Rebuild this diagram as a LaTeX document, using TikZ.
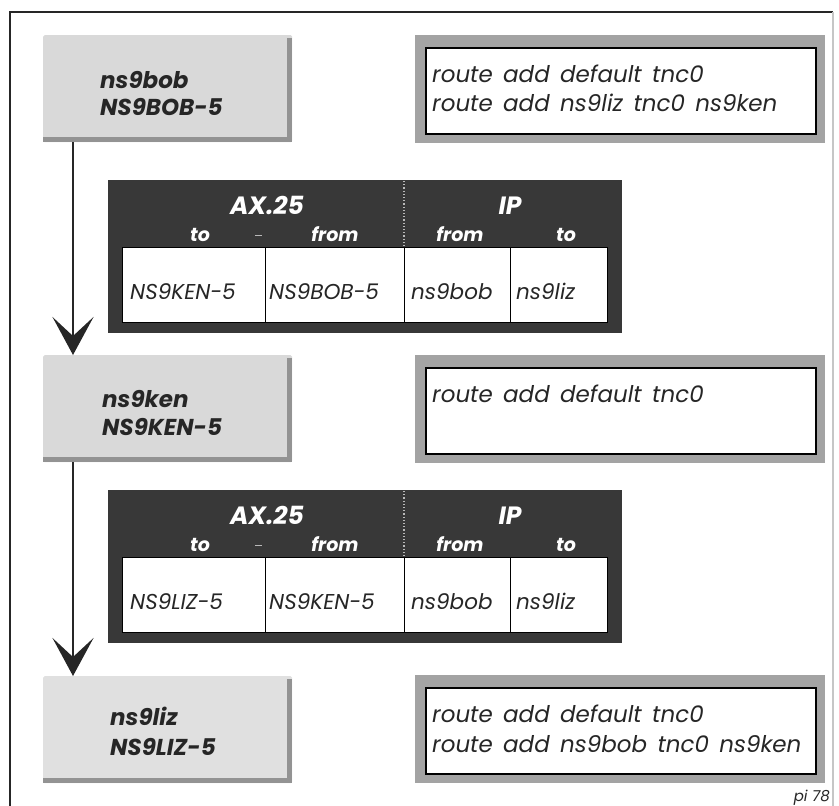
\documentclass[tikz,border=0pt]{standalone}
\usepackage{fontspec}
\setmainfont{Poppins}
\usetikzlibrary{arrows.meta,calc}
\newcommand\widewordsp{\spaceskip=0.45em\relax}
\begin{document}
\begin{tikzpicture}[x=1pt,y=-1pt,
  hostbox/.style={fill=gray!30,draw=none,inner sep=0pt,minimum width=249pt,minimum height=107pt,anchor=north west,rounded corners=1.5pt},
  hosttext/.style={anchor=base west,inner sep=0pt,font=\fontsize{23}{23}\selectfont\bfseries\itshape,text=black!85},
  routeband/.style={fill=gray!72,draw=none,inner sep=0pt,minimum width=410pt,minimum height=108pt,anchor=north west},
  routeinner/.style={fill=white,draw=black,line width=1.8pt,inner sep=0pt,minimum width=390pt,minimum height=86pt,anchor=north west},
  routetext/.style={anchor=base west,inner sep=0pt,font=\fontsize{23}{23}\selectfont\itshape\widewordsp,text=black!85},
  tabdark/.style={fill=black!78,draw=none,inner sep=0pt,minimum width=514pt,minimum height=153pt,anchor=north west},
  tabcell/.style={fill=white,draw=black,line width=0.8pt,inner sep=0pt,minimum height=75pt,anchor=north west},
  celltext/.style={anchor=base west,inner sep=0pt,font=\fontsize{21.5}{21.5}\selectfont\itshape,text=black!85},
  headbig/.style={anchor=base,inner sep=0pt,font=\fontsize{25}{25}\selectfont\bfseries\itshape,text=white},
  headsmall/.style={anchor=base,inner sep=0pt,font=\fontsize{19}{19}\selectfont\bfseries\itshape,text=white},
  conn/.style={line width=2.6pt,draw=black!85,-{Stealth[length=38pt,width=41pt,inset=19pt]}},
  shadowstrip/.style={fill=gray!85}
]
\useasboundingbox (0,0) rectangle (839,806);
% frame
\draw[line width=1.8pt,black!85] (10,812) -- (10,12) -- (833,12);
\draw[line width=1.2pt,gray!45] (833,12) -- (833,812);

% ---------- hosts ----------
\node[hostbox] (h1) at (43,35) {};
\node[hostbox] (h2) at (43,355) {};
\node[hostbox,fill=gray!24] (h3) at (43,676) {};
\foreach \h in {h1,h2,h3}{
  \fill[shadowstrip] ($(\h.north east)+(-5,3)$) rectangle (\h.south east);
  \fill[shadowstrip] ($(\h.south west)+(0,-5)$) rectangle (\h.south east);
}
\node[hosttext] (h1a) at (100,88) {ns9bob};
\node[hosttext] (h1b) at (100,115) {NS9BOB-5};
\node[hosttext] (h2a) at (102,407) {ns9ken};
\node[hosttext] (h2b) at (102,435) {NS9KEN-5};
\node[hosttext] (h3a) at (110,725) {ns9liz};
\node[hosttext] (h3b) at (110,755) {NS9LIZ-5};

% ---------- route boxes ----------
\node[routeband] (r1) at (415,35) {};
\node[routeinner] (r1i) at (425,47) {};
\node[routetext] (r1a) at (432,82) {route add default tnc0};
\node[routetext] (r1b) at (432,111) {route add ns9liz tnc0 ns9ken};

\node[routeband] (r2) at (415,355) {};
\node[routeinner] (r2i) at (425,367) {};
\node[routetext] (r2a) at (432,402) {route add default tnc0};

\node[routeband] (r3) at (415,675) {};
\node[routeinner] (r3i) at (425,687) {};
\node[routetext] (r3a) at (432,722) {route add default tnc0};
\node[routetext] (r3b) at (432,752) {route add ns9bob tnc0 ns9ken};

% ---------- table 1 ----------
\node[tabdark] (t1) at (108,180) {};
\draw[gray!55,dotted,line width=1.2pt] (404,181) -- (404,247);
\draw[gray!55,line width=1pt] (255,235) -- (262,235);
\node[headbig] (t1ax) at (267,214) {AX.25};
\node[headbig] (t1ip) at (510,214) {IP};
\node[headsmall] (t1h1) at (200,241) {to};
\node[headsmall] (t1h2) at (335,241) {from};
\node[headsmall] (t1h3) at (460,241) {from};
\node[headsmall] (t1h4) at (566,241) {to};
\node[tabcell,minimum width=143pt] (t1c1) at (122,247) {};
\node[tabcell,minimum width=139pt] (t1c2) at (265,247) {};
\node[tabcell,minimum width=106pt] (t1c3) at (404,247) {};
\node[tabcell,minimum width=97pt] (t1c4) at (510,247) {};
\node[celltext] (t1v1) at (130,299) {NS9KEN-5};
\node[celltext] (t1v2) at (269,299) {NS9BOB-5};
\node[celltext] (t1v3) at (411,299) {ns9bob};
\node[celltext] (t1v4) at (516,299) {ns9liz};

% ---------- table 2 ----------
\node[tabdark] (t2) at (108,490) {};
\draw[gray!55,dotted,line width=1.2pt] (404,491) -- (404,557);
\draw[gray!55,line width=1pt] (255,545) -- (262,545);
\node[headbig] (t2ax) at (267,524) {AX.25};
\node[headbig] (t2ip) at (510,524) {IP};
\node[headsmall] (t2h1) at (200,551) {to};
\node[headsmall] (t2h2) at (335,551) {from};
\node[headsmall] (t2h3) at (460,551) {from};
\node[headsmall] (t2h4) at (566,551) {to};
\node[tabcell,minimum width=143pt] (t2c1) at (122,557) {};
\node[tabcell,minimum width=139pt] (t2c2) at (265,557) {};
\node[tabcell,minimum width=106pt] (t2c3) at (404,557) {};
\node[tabcell,minimum width=97pt] (t2c4) at (510,557) {};
\node[celltext] (t2v1) at (130,609) {NS9LIZ-5};
\node[celltext] (t2v2) at (269,609) {NS9KEN-5};
\node[celltext] (t2v3) at (411,609) {ns9bob};
\node[celltext] (t2v4) at (516,609) {ns9liz};

% ---------- connectors ----------
\coordinate (a1) at ($(h1.south west)+(30,0)$);
\coordinate (a2) at ($(h2.south west)+(30,0)$);
\draw[conn] (a1) -- (a1 |- h2.north);
\draw[conn] (a2) -- (a2 |- h3.north);

% ---------- label ----------
\node[anchor=base east,inner sep=0pt,font=\fontsize{15}{15}\selectfont\itshape,text=black!85] (lbl) at (830,801) {pi 78};
\end{tikzpicture}
\end{document}
